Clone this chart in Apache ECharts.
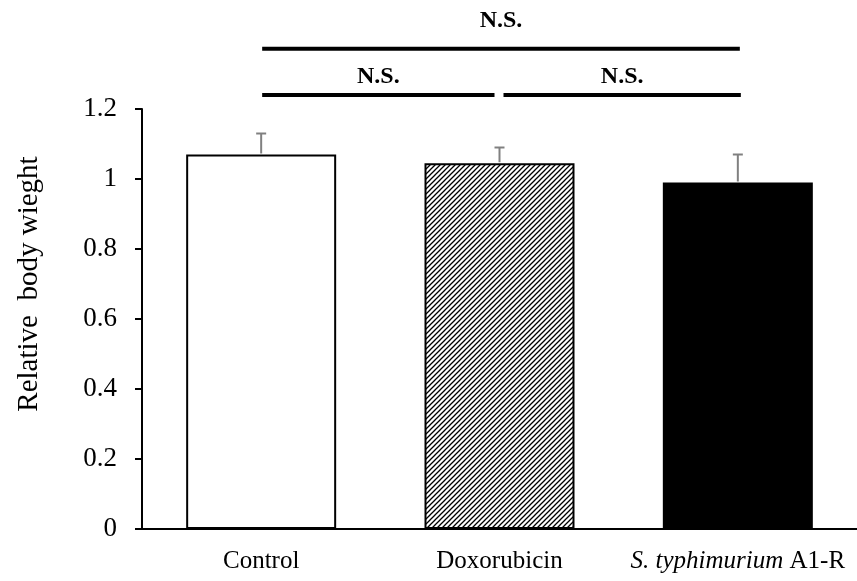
<!DOCTYPE html>
<html>
<head>
<meta charset="utf-8">
<script src="https://cdn.jsdelivr.net/npm/echarts@6/dist/echarts.min.js"></script>
<style>html,body{margin:0;padding:0;background:#fff}#c{width:857px;height:581px}</style>
</head>
<body>
<div id="c"></div>
<script>
const categories = ['Control', 'Doxorubicin', 'S. typhimurium A1-R'];
const means = [1.07, 1.045, 0.99];
const errors = [0.06, 0.045, 0.08];
const yMin = 0, yMax = 1.2, yInterval = 0.2;
// significance brackets
const sigFrom = [0, 0, 1];
const sigTo = [2, 1, 2];
const sigLevel = [1.372, 1.24, 1.24];
const sigLabel = ['N.S.', 'N.S.', 'N.S.'];

const serif = '"Liberation Serif", "DejaVu Serif", serif';

function hatch() {
  const c = document.createElement('canvas');
  c.width = 5; c.height = 5;
  const g = c.getContext('2d');
  g.fillStyle = '#fff'; g.fillRect(0, 0, 5, 5);
  g.strokeStyle = '#000'; g.lineWidth = 1.3;
  g.beginPath();
  g.moveTo(-1, 6); g.lineTo(6, -1);
  g.moveTo(-1, 1); g.lineTo(1, -1);
  g.moveTo(4, 6); g.lineTo(6, 4);
  g.stroke();
  return c;
}
const fills = ['#ffffff', { image: hatch(), repeat: 'repeat' }, '#000000'];

const chart = echarts.init(document.getElementById('c'), null, { renderer: 'canvas' });
chart.setOption({
  animation: false,
  backgroundColor: '#fff',
  grid: { left: 142, right: 0, top: 109, bottom: 52 },
  xAxis: {
    type: 'category',
    data: categories,
    axisLine: { lineStyle: { color: '#000', width: 2 } },
    axisTick: { alignWithLabel: true, length: 5, lineStyle: { color: '#000', width: 2 } },
    axisLabel: {
      interval: 0,
      margin: 20, fontFamily: serif, fontSize: 25, color: '#000',
      formatter: function (v) {
        if (v.indexOf('S. typhimurium') === 0) return '{i|S. typhimurium}' + v.slice(14);
        return v;
      },
      rich: { i: { fontStyle: 'italic', fontFamily: serif, fontSize: 25, color: '#000' } }
    }
  },
  yAxis: {
    type: 'value', min: yMin, max: yMax, interval: yInterval,
    name: 'Relative  body wieght',
    nameLocation: 'middle', nameRotate: 90, nameGap: 98,
    nameTextStyle: { fontFamily: serif, fontSize: 29, color: '#000', padding: [0, 0, 0, 70] },
    axisLine: { show: true, lineStyle: { color: '#000', width: 2 } },
    axisTick: { show: true, length: 7, lineStyle: { color: '#000', width: 2 } },
    axisLabel: { margin: 25, fontFamily: serif, fontSize: 27, color: '#000' },
    splitLine: { show: false }
  },
  series: [
    {
      type: 'bar',
      barWidth: 150,
      data: means.map((v, i) => ({
        value: v,
        itemStyle: { color: fills[i], borderColor: '#000', borderWidth: 2 }
      })),
      z: 2
    },
    {
      type: 'custom',
      z: 3,
      data: means.map((v, i) => [i, v, v + errors[i]]),
      renderItem: function (params, api) {
        const base = api.coord([api.value(0), api.value(1)]);
        const top = api.coord([api.value(0), api.value(2)]);
        const st = { stroke: '#808080', lineWidth: 2 };
        return {
          type: 'group',
          children: [
            { type: 'line', shape: { x1: base[0], y1: base[1] - 1, x2: top[0], y2: top[1] }, style: st },
            { type: 'line', shape: { x1: top[0] - 5, y1: top[1], x2: top[0] + 5, y2: top[1] }, style: st }
          ]
        };
      }
    },
    {
      type: 'custom',
      z: 4,
      clip: false,
      data: sigFrom.map((f, i) => [f, sigTo[i], sigLevel[i], i]),
      renderItem: function (params, api) {
        const i = api.value(3);
        const a = api.coord([api.value(0), api.value(2)]);
        const b = api.coord([api.value(1), api.value(2)]);
        let x1 = a[0], x2 = b[0];
        const span = api.value(1) - api.value(0);
        let off = 28;
        if (span === 1) {
          off = 18;
          if (api.value(1) === 1) x2 -= 5; else x1 += 4;
          if (api.value(0) === 0) x1 += 1;
          if (api.value(1) === 2) x2 += 3;
        } else { x1 += 1; x2 += 2; }
        return {
          type: 'group',
          children: [
            { type: 'line', shape: { x1: x1, y1: a[1], x2: x2, y2: a[1] }, style: { stroke: '#000', lineWidth: 4 } },
            { type: 'text', x: (x1 + x2) / 2, y: a[1] - off,
              style: { text: sigLabel[i], fontFamily: serif, fontWeight: 'bold', fontSize: 24, fill: '#000', align: 'center', verticalAlign: 'middle' } }
          ]
        };
      }
    }
  ]
});
</script>
</body>
</html>
